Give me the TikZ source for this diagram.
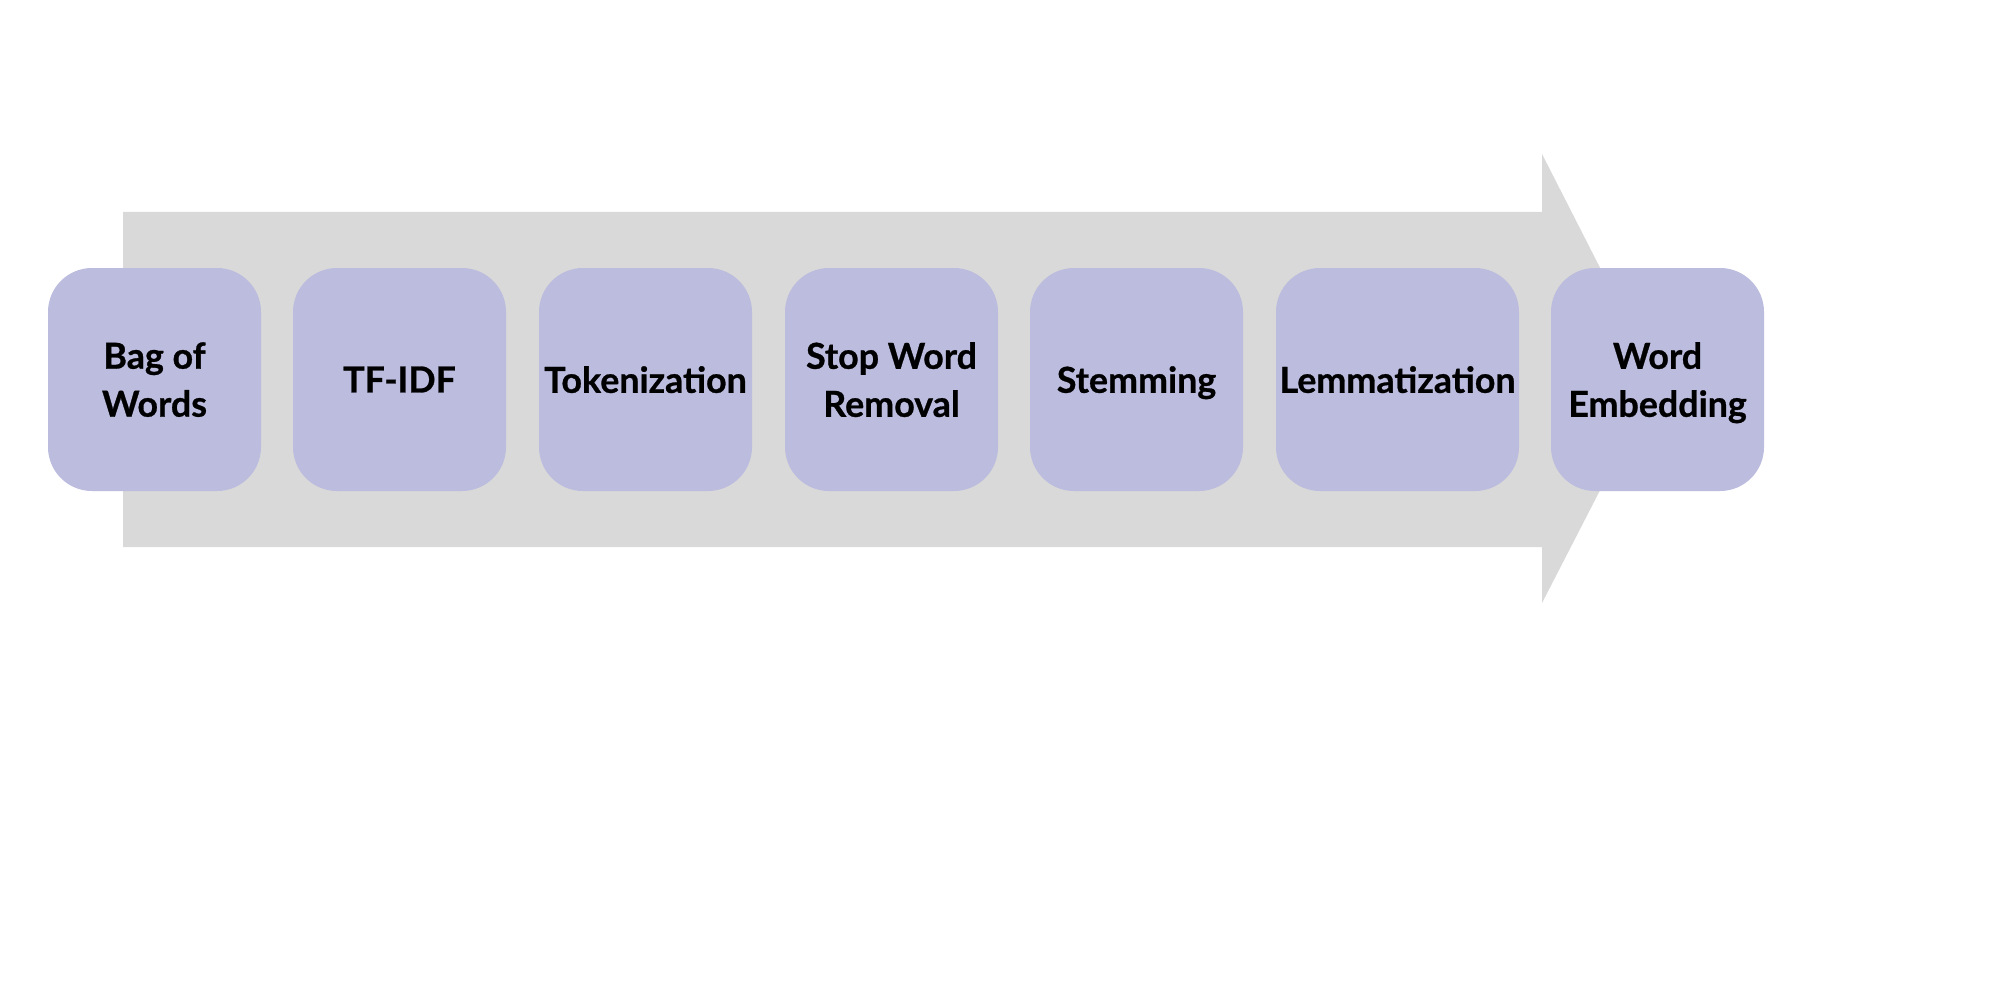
\documentclass[tikz,border=0pt]{standalone}
\usepackage{fontspec}
\setmainfont{Lato}[BoldFeatures={FakeBold=0.8}]
\definecolor{boxfill}{HTML}{BBBCDE}
\definecolor{arrowfill}{HTML}{D9D9D9}
\begin{document}
\begin{tikzpicture}[x=0.5pt,y=-0.5pt,
  stepbox/.style={rectangle, rounded corners=22pt, fill=boxfill,
    minimum width=106.5pt, minimum height=111.5pt, inner sep=0pt,
    text depth=0pt,
    align=center, text=black, font=\fontsize{17.9}{24}\selectfont\bfseries},
  widebox/.style={stepbox, minimum width=121.5pt}]
\useasboundingbox (0,0) rectangle (2000,1000);
\fill[white] (0,0) rectangle (2000,1000);
% big process arrow
\fill[arrowfill] (123,212) -- (1542,212) -- (1542,154) -- (1657,379.5)
  -- (1542,603) -- (1542,547) -- (123,547) -- cycle;
% steps
\node[stepbox] (bow)  at (154.5,379.5) {Bag of\\Words};
\node[stepbox] (tfidf) at (399.5,379.5) {TF-IDF};
\node[stepbox] (tok)  at (645.5,379.5) {Tokenization};
\node[stepbox] (stop) at (891.5,379.5) {Stop Word\\Removal};
\node[stepbox] (stem) at (1136.5,379.5) {Stemming};
\node[widebox] (lem)  at (1397.5,379.5) {Lemmatization};
\node[stepbox] (emb)  at (1657.5,379.5) {Word\\Embedding};
\end{tikzpicture}
\end{document}
